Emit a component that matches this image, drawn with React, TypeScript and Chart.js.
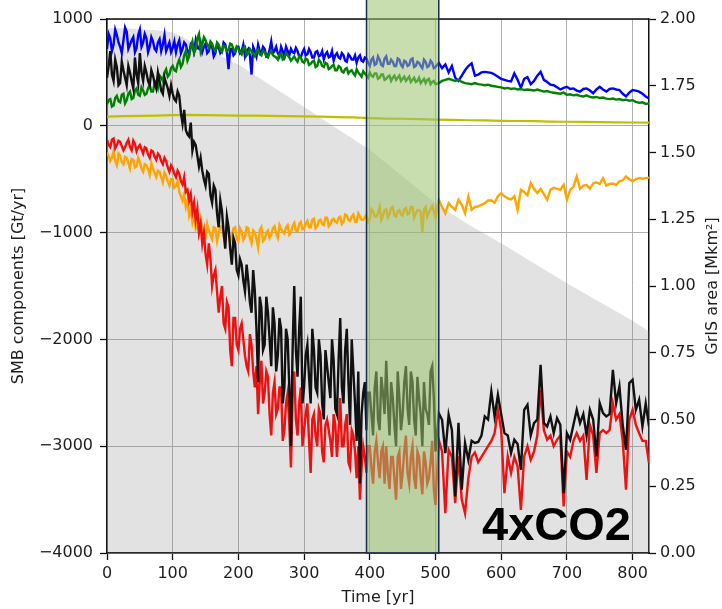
import { useEffect, useRef } from 'react';
import { Chart, registerables } from 'chart.js';

Chart.register(...registerables);

// Time axis (years) shared by the five noisy series
const years = [
  0, 5, 10, 15, 20, 25, 30, 35, 40, 45,
  50, 55, 60, 65, 70, 75, 80, 85, 90, 95,
  100, 105, 110, 115, 120, 125, 130, 135, 140, 145,
  150, 155, 160, 165, 170, 175, 180, 185, 190, 195,
  200, 205, 210, 215, 220, 225, 230, 235, 240, 245,
  250, 255, 260, 265, 270, 275, 280, 285, 290, 295,
  300, 305, 310, 315, 320, 325, 330, 335, 340, 345,
  350, 355, 360, 365, 370, 375, 380, 385, 390, 395,
  400, 405, 410, 415, 420, 425, 430, 435, 440, 445,
  450, 455, 460, 465, 470, 475, 480, 485, 490, 495,
  500, 505, 510, 515, 520, 525, 530, 535, 540, 545,
  550, 555, 560, 565, 570, 575, 580, 585, 590, 595,
  600, 605, 610, 615, 620, 625, 630, 635, 640, 645,
  650, 655, 660, 665, 670, 675, 680, 685, 690, 695,
  700, 705, 710, 715, 720, 725, 730, 735, 740, 745,
  750, 755, 760, 765, 770, 775, 780, 785, 790, 795,
  800, 805, 810, 815, 820, 825,
];

// Extra yearly samples in the noisy first 500 years
const midYears = [
  2.5, 7.5, 12.5, 17.5, 22.5, 27.5, 32.5, 37.5, 42.5, 47.5,
  52.5, 57.5, 62.5, 67.5, 72.5, 77.5, 82.5, 87.5, 92.5, 97.5,
  102.5, 107.5, 112.5, 117.5, 122.5, 127.5, 132.5, 137.5, 142.5, 147.5,
  152.5, 157.5, 162.5, 167.5, 172.5, 177.5, 182.5, 187.5, 192.5, 197.5,
  202.5, 207.5, 212.5, 217.5, 222.5, 227.5, 232.5, 237.5, 242.5, 247.5,
  252.5, 257.5, 262.5, 267.5, 272.5, 277.5, 282.5, 287.5, 292.5, 297.5,
  302.5, 307.5, 312.5, 317.5, 322.5, 327.5, 332.5, 337.5, 342.5, 347.5,
  352.5, 357.5, 362.5, 367.5, 372.5, 377.5, 382.5, 387.5, 392.5, 397.5,
  402.5, 407.5, 412.5, 417.5, 422.5, 427.5, 432.5, 437.5, 442.5, 447.5,
  452.5, 457.5, 462.5, 467.5, 472.5, 477.5, 482.5, 487.5, 492.5, 497.5,
];

const blueVals = [
  720, 820, 760, 850, 740, 800, 880, 760, 830, 730,
  900, 780, 820, 740, 790, 700, 810, 760, 700, 780,
  730, 690, 800, 720, 760, 670, 740, 800, 720, 690,
  770, 700, 740, 680, 730, 700, 760, 530, 720, 680,
  740, 700, 650, 720, 480, 700, 760, 680, 720, 660,
  790, 700, 680, 740, 650, 700, 720, 680, 700, 640,
  720, 670, 690, 640, 700, 660, 620, 690, 650, 610,
  680, 630, 660, 600, 650, 620, 590, 660, 600, 630,
  560, 640, 580, 620, 560, 650, 580, 600, 560, 620,
  550, 600, 570, 630, 560, 590, 540, 600, 560, 590,
  550, 590, 540, 575, 500, 560, 450, 420, 470, 520,
  560, 585, 470, 480, 500, 505, 500, 495, 480, 460,
  440, 430, 420, 415, 490, 430, 355, 440, 455, 390,
  420, 470, 505, 430, 410, 385, 380, 360, 340, 355,
  365, 345, 350, 330, 320, 345, 350, 330, 305, 340,
  365, 340, 320, 345, 350, 340, 335, 300, 275, 310,
  335, 330, 320, 300, 275, 255,
];
const blueMid = [
  860, 700, 900, 780, 680, 920, 720, 800, 690, 850,
  740, 860, 690, 830, 720, 780, 700, 850, 740, 690,
  790, 760, 680, 780, 700, 760, 690, 730, 780, 740,
  680, 760, 650, 760, 680, 780, 690, 720, 660, 740,
  680, 760, 700, 660, 740, 650, 700, 740, 650, 710,
  680, 740, 650, 700, 740, 660, 690, 730, 650, 690,
  660, 720, 640, 690, 650, 700, 670, 640, 700, 660,
  640, 680, 610, 670, 620, 660, 640, 610, 640, 590,
  620, 570, 650, 570, 630, 580, 620, 560, 630, 570,
  610, 560, 620, 550, 600, 560, 620, 550, 610, 540,
];

const greenVals = [
  200, 250, 190, 280, 220, 300, 240, 320, 260, 350,
  280, 330, 300, 380, 320, 420, 470, 420, 530, 480,
  560, 510, 620, 580, 700, 650, 790, 720, 860, 760,
  800, 730, 770, 700, 760, 690, 740, 710, 760, 690,
  720, 670, 740, 680, 700, 650, 710, 660, 690, 640,
  700, 650, 620, 680, 630, 660, 610, 650, 600, 640,
  590, 620, 580, 610, 560, 600, 550, 580, 540, 570,
  520, 550, 500, 540, 510, 490, 530, 480, 510, 470,
  500, 460, 490, 450, 480, 440, 470, 450, 430, 470,
  440, 420, 460, 430, 410, 450, 420, 400, 440, 410,
  390, 400, 420, 430, 440, 430, 420, 430, 410, 400,
  395, 390, 400, 390, 385, 380, 385, 375, 370, 365,
  360, 350, 355, 345, 350, 340, 345, 335, 340, 335,
  330, 340, 330, 320, 325, 315, 310, 305, 300, 310,
  290, 295, 285, 290, 280, 275, 285, 270, 265, 270,
  260, 265, 255, 250, 255, 245, 250, 240, 245, 235,
  240, 225, 215, 220, 205, 210,
];
const greenMid = [
  240, 180, 260, 230, 290, 210, 300, 250, 330, 290,
  360, 290, 350, 320, 400, 360, 450, 500, 460, 540,
  520, 580, 550, 660, 610, 740, 680, 820, 700, 830,
  760, 790, 720, 780, 710, 750, 700, 770, 720, 740,
  690, 730, 660, 720, 670, 690, 670, 700, 650, 680,
  660, 640, 670, 620, 680, 640, 630, 620, 650, 600,
  630, 570, 600, 550, 620, 560, 590, 530, 560, 520,
  560, 510, 530, 490, 520, 470, 500, 460, 490, 450,
  470, 490, 440, 480, 430, 460, 420, 470, 450, 420,
  460, 440, 410, 450, 420, 400, 440, 430, 390, 420,
];

const yellowYears = [
  0, 25, 50, 75, 100, 125, 150, 175, 200, 225, 250, 275, 300, 325, 350, 375, 400,
  425, 450, 475, 500, 525, 550, 575, 600, 625, 650, 675, 700, 725, 750, 775, 800, 825,
];
const yellowVals = [
  85, 90, 92, 95, 100, 102, 100, 98, 96, 95, 92, 90, 88, 85, 82, 78, 72,
  68, 66, 62, 58, 55, 52, 50, 47, 45, 43, 40, 38, 36, 34, 32, 31, 30,
];

const orangeVals = [
  -250, -330, -240, -370, -280, -360, -300, -400, -320, -380,
  -340, -430, -370, -460, -400, -480, -430, -530, -470, -560,
  -500, -560, -620, -700, -760, -840, -900, -960, -1000, -960,
  -1050, -980, -1060, -960, -1010, -940, -1060, -980, -1030, -950,
  -1080, -990, -1040, -960, -1100, -1000, -1140, -950, -1060, -980,
  -1020, -940, -1050, -970, -1010, -930, -1000, -910, -990, -900,
  -960, -890, -950, -870, -940, -880, -930, -860, -920, -870,
  -910, -850, -900, -840, -890, -830, -900, -850, -880, -830,
  -880, -800, -850, -760, -840, -780, -830, -760, -850, -790,
  -840, -770, -820, -760, -820, -790, -1000, -760, -810, -750,
  -860, -693, -760, -818, -725, -760, -787, -693, -740, -818,
  -662, -787, -760, -755, -740, -725, -700, -700, -720, -660,
  -630, -660, -680, -690, -660, -787, -600, -620, -650, -537,
  -590, -630, -590, -640, -693, -600, -580, -590, -600, -553,
  -693, -600, -570, -475, -590, -560, -555, -590, -540, -530,
  -545, -490, -560, -545, -540, -555, -520, -510, -475, -500,
  -520, -500, -490, -495, -490, -485,
];
const orangeMid = [
  -280, -300, -330, -260, -340, -290, -350, -310, -390, -300,
  -400, -360, -410, -350, -440, -420, -480, -440, -520, -500,
  -580, -520, -660, -640, -700, -780, -820, -920, -880, -1040,
  -920, -1020, -950, -1080, -940, -1040, -950, -1090, -960, -1060,
  -960, -1070, -950, -1050, -980, -1060, -980, -1080, -1000, -1050,
  -960, -1010, -930, -990, -950, -1020, -940, -980, -920, -970,
  -920, -950, -880, -960, -890, -920, -860, -940, -880, -900,
  -860, -920, -830, -880, -850, -900, -820, -880, -860, -900,
  -780, -850, -820, -880, -790, -860, -770, -840, -800, -830,
  -780, -830, -760, -860, -790, -810, -780, -850, -780, -800,
];

const redVals = [
  -130, -200, -120, -180, -150, -230, -160, -200, -140, -240,
  -180, -260, -210, -300, -240, -320, -280, -360, -330, -430,
  -400, -480, -450, -550, -620, -700, -800, -880, -1000, -1100,
  -1200, -1100, -1500, -1350, -1750, -1500, -1900, -1700, -2250, -1800,
  -2100, -1850, -2150, -2300, -2050, -2450, -2700, -2200, -2500, -2350,
  -2900, -2400, -2650, -2450, -2850, -2500, -3200, -2300, -2900, -2450,
  -2850, -2600, -3250, -2700, -3000, -2700, -3150, -2750, -2950, -2700,
  -3100, -2550, -3000, -2700, -3200, -2900, -3300, -3500, -3000, -3250,
  -3000, -3350, -2950, -3300, -3000, -3000, -3400, -3100, -3500, -3050,
  -3250, -2900, -3350, -3000, -3400, -3100, -3450, -3150, -3300, -2950,
  -3550, -2940, -3050, -3627, -3033, -3100, -3533, -3096, -3500, -3627,
  -3300, -3100, -3060, -3150, -3100, -3050, -3000, -2950, -2878, -2659,
  -2850, -3439, -3096, -3250, -3100, -3190, -3596, -3096, -3000, -3128,
  -3050, -2900, -2472, -2850, -2940, -2900, -3000, -2940, -2900, -3565,
  -3050, -3100, -2950, -2878, -2950, -2900, -3315, -2800, -2900, -3250,
  -2878, -2850, -2878, -2850, -2600, -2750, -2700, -2950, -3408, -2753,
  -2659, -2800, -2878, -2950, -2950, -3158,
];
const redMid = [
  -180, -130, -210, -140, -190, -200, -130, -230, -170, -200,
  -220, -200, -270, -230, -290, -260, -330, -300, -390, -370,
  -450, -420, -520, -480, -600, -640, -720, -780, -920, -1000,
  -1300, -1250, -1400, -1550, -1600, -1850, -1650, -2100, -1800, -2050,
  -1900, -2000, -2250, -1950, -2300, -2250, -2400, -2600, -2300, -2700,
  -2500, -2700, -2450, -2950, -2600, -2800, -2550, -2750, -2600, -3000,
  -2700, -2950, -2750, -2900, -2650, -3050, -2800, -2850, -3100, -2800,
  -2850, -3000, -2800, -3150, -2850, -3050, -3000, -3200, -3100, -3000,
  -3200, -3050, -3150, -3050, -3350, -3250, -3100, -3300, -3100, -3400,
  -3050, -3250, -3100, -3300, -3050, -3300, -3050, -3350, -3150, -3400,
];

const blackVals = [
  450, 700, 420, 550, 400, 520, 380, 500, 350, 480,
  680, 420, 500, 380, 470, 350, 420, 300, 400, 280,
  300, 230, 280, 20, -40, -100, -230, -180, -380, -420,
  -560, -450, -720, -600, -950, -800, -1150, -950, -1300, -1100,
  -1400, -1300, -1550, -1450, -1750, -1550, -2400, -1700, -2050, -1750,
  -2250, -1850, -2150, -1900, -2450, -2000, -3000, -1500, -2350, -1600,
  -2450, -2050, -2600, -2100, -2500, -2150, -2750, -2250, -2550, -2200,
  -2700, -1800, -2600, -1900, -2800, -2300, -2950, -3350, -2500, -2850,
  -2500, -2900, -2300, -2850, -2500, -2200, -2900, -2550, -3000, -2550,
  -2700, -2250, -2800, -2400, -2900, -2550, -3000, -2650, -2800, -2250,
  -3050, -2690, -2753, -3065, -2706, -2850, -3471, -2780, -3408, -2971,
  -3128, -2950, -2970, -2960, -2900, -2721, -2750, -2487, -2721, -2519,
  -2700, -2878, -2900, -3065, -2940, -2980, -3221, -2659, -2612, -2900,
  -2784, -2750, -2238, -2784, -2815, -2721, -2878, -2737, -2800, -3439,
  -2878, -2940, -2800, -2659, -2784, -2700, -2900, -2659, -2750, -3096,
  -2597, -2690, -2721, -2700, -2285, -2597, -2440, -2800, -3033, -2409,
  -2378, -2659, -2565, -2815, -2600, -2815,
];
const blackMid = [
  560, 480, 620, 380, 600, 450, 560, 420, 640, 400,
  500, 560, 420, 520, 400, 500, 330, 450, 350, 380,
  250, 320, 120, 150, -80, 30, -150, -280, -300, -500,
  -430, -650, -560, -820, -700, -1000, -850, -1150, -1050, -1350,
  -1250, -1450, -1300, -1650, -1350, -1900, -1600, -2100, -1600, -2000,
  -1700, -2300, -1800, -2600, -1900, -2450, -2100, -2100, -1900, -2600,
  -2150, -2350, -1900, -2450, -2000, -2600, -2100, -2400, -2000, -2650,
  -2200, -2450, -2100, -2400, -2000, -2600, -2300, -2700, -2400, -2500,
  -2700, -2450, -2750, -2350, -2700, -2600, -2400, -2800, -2300, -2850,
  -2400, -2650, -2300, -2750, -2350, -2700, -2400, -2700, -2300, -2550,
];

// GrIS area (right axis, Mkm²)
const areaYears = [0, 25, 50, 75, 100, 125, 150, 175, 200, 250, 300, 350, 400, 450, 500, 550, 600, 650, 700, 750, 800, 825];
const areaVals = [1.965, 1.965, 1.962, 1.958, 1.95, 1.92, 1.89, 1.86, 1.83, 1.75, 1.67, 1.59, 1.51, 1.41, 1.31, 1.23, 1.16, 1.085, 1.01, 0.94, 0.87, 0.83];

// Highlighted period
const boxStart = 395;
const boxEnd = 505;
const annotation = '4xCO2';

const FONT = '"DejaVu Sans", Verdana, sans-serif';
const TEXT = '#1e1e1e';

const pts = (xs: number[], ys: number[]) => xs.map((x, i) => ({ x, y: ys[i] }));
const merged = (xs: number[], ys: number[], mx: number[], my: number[]) =>
  [...pts(xs, ys), ...pts(mx, my)].sort((a, b) => a.x - b.x);

const overlay = {
  id: 'overlay',
  afterDraw(chart: any) {
    const { ctx, chartArea, scales } = chart;
    const xs = scales.x;
    ctx.save();
    ctx.strokeStyle = '#111';
    ctx.lineWidth = 1.5;
    ctx.beginPath();
    ctx.moveTo(chartArea.left, chartArea.top);
    ctx.lineTo(chartArea.right, chartArea.top);
    ctx.stroke();
    const x0 = xs.getPixelForValue(boxStart);
    const x1 = xs.getPixelForValue(boxEnd);
    ctx.fillStyle = 'rgba(155,195,110,0.55)';
    ctx.fillRect(x0, -5, x1 - x0, chartArea.bottom + 5);
    ctx.strokeStyle = '#1b2d4f';
    ctx.lineWidth = 1.5;
    ctx.strokeRect(x0, -5, x1 - x0, chartArea.bottom + 5);
    ctx.fillStyle = TEXT;
    ctx.font = `16px ${FONT}`;
    ctx.textAlign = 'center';
    ctx.textBaseline = 'middle';
    ctx.translate(713, (chartArea.top + chartArea.bottom) / 2);
    ctx.rotate(-Math.PI / 2);
    ctx.fillText('GrIS area [Mkm\u00B2]', 0, 0);
    ctx.restore();
    ctx.save();
    ctx.fillStyle = '#000';
    ctx.font = 'bold 47px "Liberation Sans", Arial, sans-serif';
    ctx.textAlign = 'left';
    ctx.textBaseline = 'alphabetic';
    ctx.fillText(annotation, chartArea.right - 167, chartArea.bottom - 13);
    ctx.restore();
  },
};

export default function App() {
  const ref = useRef<HTMLCanvasElement>(null);
  useEffect(() => {
    if (!ref.current) return;
    const tickFont = { family: FONT, size: 16 };
    const line = (label: string, data: any[], color: string, order: number, width = 2.4) => ({
      label,
      data,
      borderColor: color,
      backgroundColor: color,
      borderWidth: width,
      pointRadius: 0,
      fill: false,
      order,
      yAxisID: 'y',
    });
    const chart = new Chart(ref.current, {
      type: 'line',
      data: {
        datasets: [
          {
            label: 'GrIS area',
            data: pts(areaYears, areaVals),
            yAxisID: 'y2',
            borderWidth: 0,
            borderColor: 'rgba(0,0,0,0)',
            backgroundColor: 'rgba(128,128,128,0.23)',
            fill: 'origin',
            pointRadius: 0,
            order: 10,
          } as any,
          line('blue', merged(years, blueVals, midYears, blueMid), '#0000ff', 5),
          line('green', merged(years, greenVals, midYears, greenMid), '#008000', 4),
          line('yellow', pts(yellowYears, yellowVals), '#bfbf00', 3, 2.2),
          line('orange', merged(years, orangeVals, midYears, orangeMid), '#ffa500', 2),
          line('red', merged(years, redVals, midYears, redMid), '#ee1111', 1),
          line('black', merged(years, blackVals, midYears, blackMid), '#111111', 0),
        ],
      },
      options: {
        animation: false,
        responsive: false,
        maintainAspectRatio: false,
        layout: { padding: { top: 19, left: 0, right: 0, bottom: 0 } },
        elements: { line: { tension: 0 } },
        plugins: { legend: { display: false }, tooltip: { enabled: false } },
        scales: {
          x: {
            type: 'linear',
            min: 0,
            max: 825,
            ticks: { stepSize: 100, includeBounds: false, font: tickFont, color: TEXT, padding: 4, maxRotation: 0 },
            grid: { color: '#b0b0b0', lineWidth: 1, tickLength: 7, tickColor: '#111', tickWidth: 1.3 },
            border: { color: '#111', width: 1.5 },
            title: { display: true, text: 'Time [yr]', font: tickFont, color: TEXT, padding: { top: 0, bottom: 2 } },
            afterFit: (s: any) => { s.height = 56; },
          },
          y: {
            position: 'left',
            min: -4000,
            max: 1000,
            ticks: {
              stepSize: 1000,
              font: tickFont,
              color: TEXT,
              padding: 7,
              callback: (v: any) => (v < 0 ? '\u2212' + Math.abs(v) : String(v)),
            },
            grid: { color: '#b0b0b0', lineWidth: 1, tickLength: 7, tickColor: '#111', tickWidth: 1.3 },
            border: { color: '#111', width: 1.5 },
            title: { display: true, text: 'SMB components [Gt/yr]', font: tickFont, color: TEXT, padding: { top: 9, bottom: 0 } },
            afterFit: (s: any) => { s.width = 107; },
          },
          y2: {
            position: 'right',
            min: 0,
            max: 2,
            ticks: {
              stepSize: 0.25,
              font: tickFont,
              color: TEXT,
              padding: 4,
              callback: (v: any) => Number(v).toFixed(2),
            },
            grid: { drawOnChartArea: false, tickLength: 7, tickColor: '#111', tickWidth: 1.3 },
            border: { color: '#111', width: 1.5 },
            afterFit: (s: any) => { s.width = 73; },
          },
        },
      } as any,
      plugins: [overlay],
    });
    return () => chart.destroy();
  }, []);
  return (
    <div style={{ position: 'absolute', left: 0, top: 0, width: 722, height: 609, background: '#fff' }}>
      <canvas ref={ref} width={722} height={609} style={{ display: 'block', width: 722, height: 609 }} />
    </div>
  );
}
